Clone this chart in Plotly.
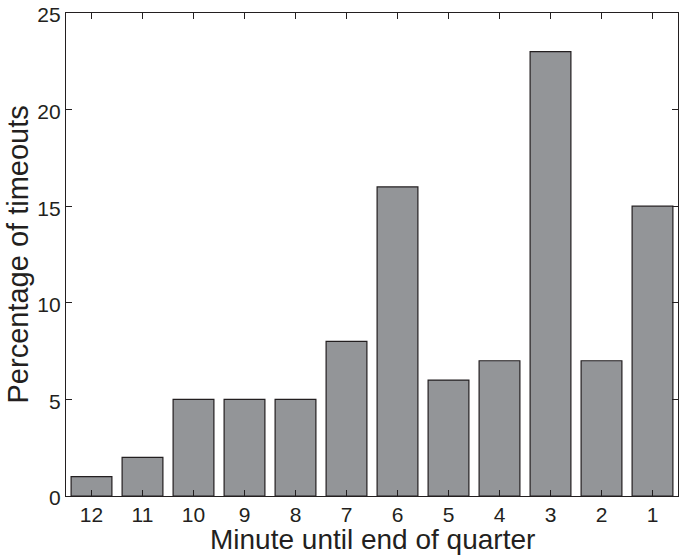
import plotly.graph_objects as go

minutes = ["12", "11", "10", "9", "8", "7", "6", "5", "4", "3", "2", "1"]
pct_timeouts = [1, 2, 5, 5, 5, 8, 16, 6, 7, 23, 7, 15]
y_ticks = [0, 5, 10, 15, 20, 25]

bar = go.Bar(
    x=minutes,
    y=pct_timeouts,
    marker=dict(color="#939598", line=dict(color="#231f20", width=1.2)),
    width=0.8,
)

fig = go.Figure(data=[bar])

axis_style = dict(
    showline=True,
    linecolor="#231f20",
    linewidth=1.2,
    mirror="ticks",
    ticks="inside",
    ticklen=6,
    tickcolor="#231f20",
    showgrid=False,
    zeroline=False,
    automargin=False,
    ticklabeloverflow="allow",
    tickfont=dict(size=21, color="#231f20"),
)

fig.update_layout(
    width=685,
    height=558,
    margin=dict(l=66, r=7, t=13, b=62),
    paper_bgcolor="white",
    plot_bgcolor="white",
    font=dict(family="Liberation Sans, Arial, sans-serif", color="#231f20"),
    showlegend=False,
    xaxis=dict(axis_style, range=[-0.5, 11.5]),
    yaxis=dict(axis_style, range=[0, 25], tickvals=y_ticks, ticklabelshift=2),
)

# axis titles as annotations so they can sit tight against the tick labels
fig.add_annotation(
    text="Minute until end of quarter",
    xref="paper", yref="paper", x=0.5, y=0,
    xanchor="center", yanchor="top", yshift=-26,
    showarrow=False, font=dict(size=28),
)
fig.add_annotation(
    text="Percentage of timeouts",
    xref="paper", yref="paper", x=0, y=0.5,
    xanchor="center", yanchor="middle", xshift=-49,
    textangle=-90, showarrow=False, font=dict(size=29),
)

# drop the default 8px body margin so the figure fills the window
fig.write_html("out.html", config={"displayModeBar": False},
               post_script="document.body.style.margin='0';")
